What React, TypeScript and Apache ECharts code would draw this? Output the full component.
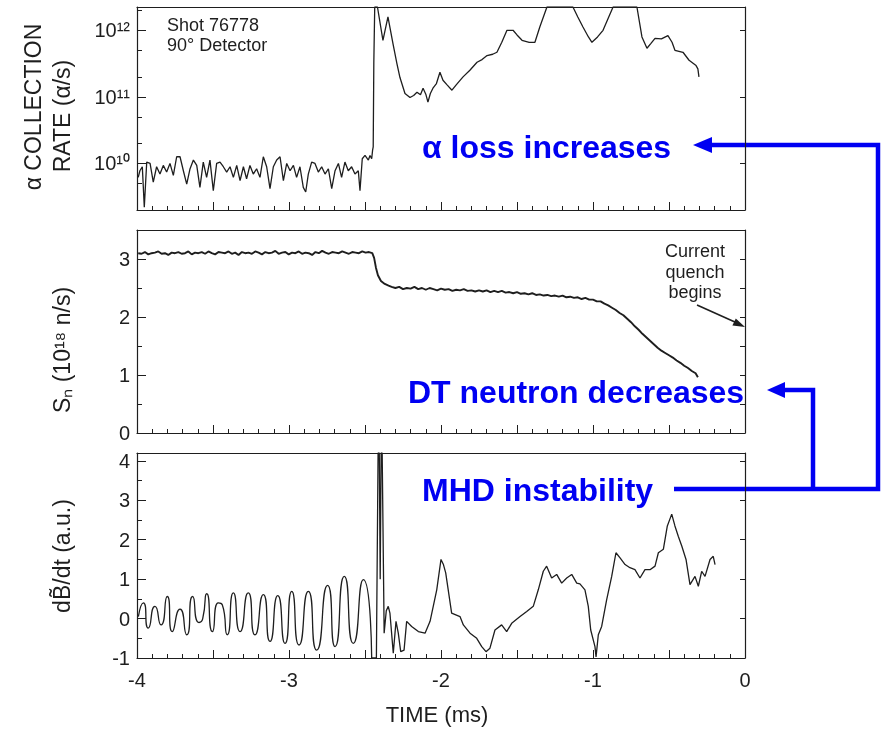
import React, { useEffect, useRef } from 'react';
import * as echarts from 'echarts';

const FONT = '"Liberation Sans", Arial, Helvetica, sans-serif';
const INK = '#1e1e1e';
const BLUE = '#0000f2';

// ---------- axis definitions ----------
const timeLabels = [-4, -3, -2, -1, 0];
const alphaDecades = [10, 11, 12];
const alphaDecadeText = ['10¹⁰', '10¹¹', '10¹²'];
const alphaMinorLogs = [9.699, 10.301, 10.699, 11.301, 11.699, 12.301];
const neutronMajor = [0, 1, 2, 3];
const neutronMinor = [0.5, 1.5, 2.5];
const dbdtMajor = [-1, 0, 1, 2, 3, 4];
const dbdtMinor = [-0.5, 0.5, 1.5, 2.5, 3.5];

// ---------- alpha collection rate: [time ms, log10(rate)] ----------
const alphaRate = [
  [-3.992, 9.79], [-3.981, 9.89], [-3.965, 9.95], [-3.952, 9.34], [-3.936, 10.02], [-3.914, 10.0],
  [-3.893, 9.72], [-3.871, 9.95], [-3.849, 9.84], [-3.827, 9.97], [-3.805, 9.87], [-3.783, 10.0],
  [-3.761, 9.82], [-3.739, 10.1], [-3.717, 10.1], [-3.695, 9.89], [-3.673, 9.69], [-3.651, 9.92],
  [-3.629, 10.05], [-3.607, 9.97], [-3.586, 9.64], [-3.564, 10.02], [-3.542, 9.79], [-3.52, 10.05],
  [-3.498, 9.59], [-3.476, 10.0], [-3.454, 10.02], [-3.432, 9.95], [-3.41, 9.87], [-3.388, 9.95],
  [-3.366, 9.79], [-3.344, 9.97], [-3.322, 9.74], [-3.3, 9.95], [-3.279, 9.77], [-3.257, 9.97],
  [-3.235, 9.84], [-3.213, 9.92], [-3.191, 9.79], [-3.169, 10.1], [-3.147, 9.95], [-3.125, 9.62],
  [-3.103, 9.95], [-3.081, 10.05], [-3.059, 10.1], [-3.037, 9.74], [-3.015, 10.0], [-2.993, 9.89],
  [-2.971, 9.97], [-2.95, 9.79], [-2.928, 9.95], [-2.906, 9.64], [-2.89, 9.57], [-2.873, 9.84],
  [-2.851, 10.02], [-2.829, 10.0], [-2.807, 9.87], [-2.785, 9.95], [-2.763, 9.84], [-2.741, 9.92],
  [-2.719, 9.62], [-2.697, 9.89], [-2.675, 10.0], [-2.654, 9.79], [-2.632, 10.02], [-2.61, 9.89],
  [-2.588, 9.95], [-2.566, 9.84], [-2.544, 9.89], [-2.533, 9.59], [-2.518, 10.07], [-2.5, 10.12],
  [-2.478, 10.05], [-2.467, 10.12], [-2.456, 10.07], [-2.45, 10.2], [-2.446, 10.25],
  [-2.442, 11.5], [-2.436, 12.35], [-2.418, 12.35], [-2.382, 11.85], [-2.349, 12.2], [-2.316, 11.8],
  [-2.29, 11.5], [-2.27, 11.29], [-2.237, 11.05], [-2.204, 10.99], [-2.18, 11.02], [-2.158, 11.07],
  [-2.135, 11.03], [-2.118, 11.13], [-2.1, 11.04], [-2.086, 10.92], [-2.07, 11.05], [-2.053, 11.13],
  [-2.03, 11.2], [-2.007, 11.37], [-1.987, 11.25], [-1.96, 11.18], [-1.928, 11.1], [-1.9, 11.18],
  [-1.855, 11.3], [-1.81, 11.4], [-1.763, 11.52], [-1.73, 11.56], [-1.697, 11.62], [-1.66, 11.64],
  [-1.632, 11.67], [-1.6, 11.82], [-1.566, 12.0], [-1.526, 12.0], [-1.5, 11.93], [-1.467, 11.85],
  [-1.42, 11.82], [-1.382, 11.82], [-1.35, 12.05], [-1.303, 12.35], [-1.132, 12.35], [-1.1, 12.2],
  [-1.066, 12.05], [-1.03, 11.9], [-1.007, 11.82], [-0.97, 11.9], [-0.934, 12.0], [-0.9, 12.18],
  [-0.868, 12.35], [-0.711, 12.35], [-0.678, 11.9], [-0.645, 11.73], [-0.62, 11.8], [-0.592, 11.88],
  [-0.55, 11.87], [-0.507, 11.92], [-0.48, 11.82], [-0.461, 11.7], [-0.408, 11.67], [-0.368, 11.55],
  [-0.322, 11.47], [-0.31, 11.42], [-0.303, 11.3],
];

// ---------- neutron source rate Sn (1e18 n/s): [time ms, value] ----------
const neutronRate = [
  [-3.992, 3.1], [-3.97, 3.09], [-3.948, 3.12], [-3.926, 3.08], [-3.904, 3.1], [-3.882, 3.11],
  [-3.86, 3.13], [-3.838, 3.09], [-3.816, 3.1], [-3.794, 3.07], [-3.772, 3.11], [-3.75, 3.1],
  [-3.728, 3.12], [-3.706, 3.09], [-3.684, 3.1], [-3.662, 3.13], [-3.64, 3.08], [-3.618, 3.11],
  [-3.596, 3.1], [-3.574, 3.12], [-3.552, 3.09], [-3.53, 3.13], [-3.508, 3.1], [-3.486, 3.08],
  [-3.464, 3.12], [-3.442, 3.11], [-3.42, 3.1], [-3.398, 3.13], [-3.376, 3.09], [-3.354, 3.11],
  [-3.332, 3.07], [-3.31, 3.12], [-3.288, 3.1], [-3.266, 3.11], [-3.244, 3.09], [-3.222, 3.13],
  [-3.2, 3.11], [-3.178, 3.08], [-3.156, 3.12], [-3.134, 3.1], [-3.112, 3.11], [-3.09, 3.14],
  [-3.068, 3.09], [-3.046, 3.11], [-3.024, 3.12], [-3.002, 3.08], [-2.98, 3.11], [-2.958, 3.1],
  [-2.936, 3.13], [-2.914, 3.09], [-2.892, 3.11], [-2.87, 3.1], [-2.848, 3.07], [-2.826, 3.12],
  [-2.804, 3.1], [-2.782, 3.14], [-2.76, 3.11], [-2.738, 3.09], [-2.716, 3.12], [-2.694, 3.11],
  [-2.672, 3.1], [-2.65, 3.13], [-2.628, 3.11], [-2.606, 3.09], [-2.584, 3.12], [-2.562, 3.11],
  [-2.54, 3.1], [-2.518, 3.13], [-2.496, 3.11], [-2.474, 3.12], [-2.452, 3.1],
  [-2.44, 3.02], [-2.428, 2.85], [-2.415, 2.72], [-2.395, 2.62], [-2.37, 2.57], [-2.345, 2.54],
  [-2.325, 2.52], [-2.3, 2.5], [-2.275, 2.52], [-2.25, 2.48], [-2.225, 2.5], [-2.2, 2.49],
  [-2.175, 2.52], [-2.15, 2.48], [-2.125, 2.5], [-2.1, 2.47], [-2.075, 2.5], [-2.05, 2.48],
  [-2.025, 2.46], [-2.0, 2.49], [-1.975, 2.47], [-1.95, 2.48], [-1.925, 2.45], [-1.9, 2.47],
  [-1.875, 2.46], [-1.85, 2.48], [-1.825, 2.45], [-1.8, 2.46], [-1.775, 2.44], [-1.75, 2.46],
  [-1.725, 2.44], [-1.7, 2.46], [-1.675, 2.43], [-1.65, 2.45], [-1.625, 2.43], [-1.6, 2.45],
  [-1.575, 2.42], [-1.55, 2.43], [-1.525, 2.41], [-1.5, 2.43], [-1.475, 2.4], [-1.45, 2.41],
  [-1.425, 2.39], [-1.4, 2.41], [-1.375, 2.38], [-1.35, 2.39], [-1.325, 2.37], [-1.3, 2.38],
  [-1.275, 2.36], [-1.25, 2.37], [-1.225, 2.35], [-1.2, 2.37], [-1.175, 2.34], [-1.15, 2.35],
  [-1.125, 2.33], [-1.1, 2.34], [-1.075, 2.31], [-1.05, 2.33], [-1.025, 2.3], [-1.0, 2.3],
  [-0.975, 2.27], [-0.95, 2.27], [-0.925, 2.23], [-0.9, 2.2], [-0.875, 2.16], [-0.85, 2.12],
  [-0.825, 2.07], [-0.8, 2.03], [-0.775, 1.97], [-0.75, 1.91], [-0.725, 1.84], [-0.7, 1.78],
  [-0.675, 1.71], [-0.65, 1.65], [-0.625, 1.59], [-0.6, 1.53], [-0.575, 1.47], [-0.55, 1.42],
  [-0.525, 1.38], [-0.5, 1.34], [-0.475, 1.3], [-0.45, 1.25], [-0.425, 1.21], [-0.4, 1.16],
  [-0.375, 1.12], [-0.35, 1.07], [-0.325, 1.03], [-0.31, 0.96],
];

// ---------- dB/dt (a.u.): [time ms, value] ----------
const dbdtOscillation = [
  [-3.991, 0.05], [-3.958, 0.4], [-3.926, -0.24], [-3.882, 0.31], [-3.842, -0.16], [-3.801, 0.56],
  [-3.768, -0.33], [-3.717, 0.24], [-3.673, -0.41], [-3.634, 0.56], [-3.592, -0.1], [-3.568, -0.01],
  [-3.541, 0.63], [-3.504, -0.33], [-3.465, 0.4], [-3.439, 0.35], [-3.406, -0.41], [-3.366, 0.65],
  [-3.322, -0.33], [-3.268, 0.65], [-3.224, -0.41], [-3.169, 0.61], [-3.125, -0.58], [-3.074, 0.58],
  [-3.026, -0.63], [-2.982, 0.69], [-2.934, -0.67], [-2.873, 0.69], [-2.818, -0.8], [-2.746, 0.84],
  [-2.697, -0.71], [-2.636, 1.07], [-2.577, -0.63], [-2.511, 0.99], [-2.456, -1.0],
];
const dbdtLate = [
  [-2.456, -1.0], [-2.425, -1.0], [-2.414, 4.2], [-2.406, 4.2], [-2.4, 1.0], [-2.394, 4.2],
  [-2.387, 4.2], [-2.374, -0.37], [-2.36, 0.2], [-2.347, 0.31], [-2.336, 0.14], [-2.314, -0.88],
  [-2.296, -0.07], [-2.281, -0.37], [-2.265, -0.84], [-2.243, -0.8], [-2.226, -0.07], [-2.193, -0.2],
  [-2.149, -0.33], [-2.105, -0.37], [-2.072, -0.07], [-2.028, 0.73], [-2.0, 1.5], [-1.984, 1.37],
  [-1.969, 1.16], [-1.93, 0.14], [-1.875, 0.05], [-1.853, -0.16], [-1.809, -0.37], [-1.765, -0.5],
  [-1.732, -0.71], [-1.704, -0.84], [-1.678, -0.75], [-1.645, -0.29], [-1.601, -0.16], [-1.568, -0.33],
  [-1.535, -0.12], [-1.48, 0.05], [-1.436, 0.18], [-1.393, 0.31], [-1.36, 0.73], [-1.327, 1.2],
  [-1.305, 1.33], [-1.272, 1.03], [-1.239, 1.12], [-1.206, 0.9], [-1.173, 1.03], [-1.14, 1.12],
  [-1.107, 0.9], [-1.086, 0.88], [-1.053, 0.73], [-1.031, 0.31], [-1.015, -0.29], [-0.987, -0.71],
  [-0.98, -0.97], [-0.965, -0.41], [-0.943, -0.2], [-0.91, 0.48], [-0.877, 1.07], [-0.849, 1.67],
  [-0.822, 1.54], [-0.789, 1.37], [-0.757, 1.29], [-0.724, 1.24], [-0.691, 1.03], [-0.658, 1.24],
  [-0.625, 1.24], [-0.592, 1.33], [-0.57, 1.67], [-0.537, 1.76], [-0.511, 2.35], [-0.482, 2.65],
  [-0.461, 2.35], [-0.439, 2.09], [-0.416, 1.84], [-0.388, 1.5], [-0.362, 0.86], [-0.329, 1.07],
  [-0.307, 0.82], [-0.285, 1.2], [-0.263, 1.07], [-0.23, 1.5], [-0.209, 1.58], [-0.197, 1.37],
];

const GRIDS = [
  { left: 137, top: 7, width: 608, height: 203 },
  { left: 137, top: 230, width: 608, height: 203 },
  { left: 137, top: 453, width: 608, height: 205 },
];
const LINE = { color: INK, width: 1.2 };
const TICK = { color: INK, width: 1 };

function xAxisBottom(gridIndex: number, labels: boolean) {
  return {
    type: 'value', gridIndex, position: 'bottom', min: -4, max: 0, interval: 0.5,
    axisLine: { show: true, onZero: false, lineStyle: LINE },
    axisTick: { show: true, inside: true, length: 8, lineStyle: TICK },
    minorTick: { show: true, splitNumber: 5, length: 4, lineStyle: TICK },
    splitLine: { show: false }, minorSplitLine: { show: false },
    axisLabel: {
      show: labels, fontSize: 20, fontFamily: FONT, color: INK, margin: 12,
      formatter: (v: number) => {
        const r = Math.round(v);
        return Math.abs(v - r) < 1e-6 && timeLabels.includes(r) ? String(r) : '';
      },
    },
  };
}
function xAxisTop(gridIndex: number) {
  return {
    type: 'value', gridIndex, position: 'top', min: -4, max: 0,
    axisLine: { show: true, onZero: false, lineStyle: LINE },
    axisTick: { show: false }, axisLabel: { show: false }, splitLine: { show: false },
  };
}
function yMajor(gridIndex: number, min: number, max: number, values: number[], formatter?: any) {
  const label: any = { customValues: values, fontSize: 20, fontFamily: FONT, color: INK, margin: 7 };
  if (formatter) label.formatter = formatter;
  return {
    type: 'value', gridIndex, position: 'left', min, max,
    axisLine: { show: true, onZero: false, lineStyle: LINE },
    axisTick: { show: true, inside: true, length: 9, customValues: values, lineStyle: TICK },
    splitLine: { show: false },
    axisLabel: label,
  };
}
function yMinor(gridIndex: number, min: number, max: number, values: number[]) {
  return {
    type: 'value', gridIndex, position: 'left', offset: 0, min, max,
    axisLine: { show: false, onZero: false },
    axisTick: { show: true, inside: true, length: 5, customValues: values, lineStyle: TICK },
    splitLine: { show: false }, axisLabel: { show: false },
  };
}
function yRight(gridIndex: number, min: number, max: number, values: number[]) {
  return {
    type: 'value', gridIndex, position: 'right', offset: 0, min, max,
    axisLine: { show: true, onZero: false, lineStyle: LINE },
    axisTick: { show: true, inside: true, length: 5, customValues: values, lineStyle: TICK },
    splitLine: { show: false }, axisLabel: { show: false },
  };
}

function txt(x: number, y: number, text: string, size: number, opts: any = {}) {
  return {
    type: 'text', x, y, rotation: opts.rotation || 0,
    style: {
      text, fill: opts.color || INK, fontSize: size, fontFamily: FONT,
      fontWeight: opts.bold ? 'bold' : 'normal',
      align: opts.align || 'center', verticalAlign: 'middle',
    },
  };
}

export default function App() {
  const ref = useRef<HTMLDivElement>(null);

  useEffect(() => {
    if (!ref.current) return;
    const chart = echarts.init(ref.current, null, { renderer: 'svg' });

    const lineSeries = (xi: number, yi: number, data: number[][], width: number, smooth?: number) => {
      const s: any = {
        type: 'line', xAxisIndex: xi, yAxisIndex: yi, data,
        showSymbol: false, symbol: 'none',
        lineStyle: { color: INK, width },
      };
      if (smooth) s.smooth = smooth;
      return s;
    };

    chart.setOption({
      animation: false,
      grid: GRIDS,
      xAxis: [
        xAxisBottom(0, false), xAxisBottom(1, false), xAxisBottom(2, true),
        xAxisTop(0), xAxisTop(1), xAxisTop(2),
      ],
      yAxis: [
        yMajor(0, 9.3, 12.35, alphaDecades, (v: number) => alphaDecadeText[alphaDecades.indexOf(Math.round(v))] || ''),
        yMinor(0, 9.3, 12.35, alphaMinorLogs),
        yMajor(1, 0, 3.5, neutronMajor),
        yMinor(1, 0, 3.5, neutronMinor),
        yMajor(2, -1, 4.2, dbdtMajor),
        yMinor(2, -1, 4.2, dbdtMinor),
        yRight(0, 9.3, 12.35, alphaDecades),
        yRight(1, 0, 3.5, neutronMajor.concat(neutronMinor)),
        yRight(2, -1, 4.2, dbdtMajor),
      ],
      series: [
        lineSeries(0, 0, alphaRate, 1.3),
        lineSeries(1, 2, neutronRate, 1.9),
        lineSeries(2, 4, dbdtOscillation, 1.3, 0.75),
        lineSeries(2, 4, dbdtLate, 1.3),
      ],
      graphic: [
        txt(33, 107, 'α COLLECTION', 23, { rotation: Math.PI / 2 }),
        txt(62, 116, 'RATE (α/s)', 23, { rotation: Math.PI / 2 }),
        txt(62, 350, 'Sₙ (10¹⁸ n/s)', 23, { rotation: Math.PI / 2 }),
        txt(62, 556, 'dB̃/dt (a.u.)', 23, { rotation: Math.PI / 2 }),
        txt(437, 714, 'TIME (ms)', 22),
        txt(167, 25, 'Shot 76778', 18, { align: 'left' }),
        txt(167, 45, '90° Detector', 18, { align: 'left' }),
        txt(695, 251, 'Current', 18),
        txt(695, 272, 'quench', 18),
        txt(695, 292, 'begins', 18),
        { type: 'line', shape: { x1: 697, y1: 305, x2: 736, y2: 322.5 }, style: { stroke: INK, lineWidth: 1.6 } },
        { type: 'polygon', shape: { points: [[745, 327], [735.8, 318.4], [732.4, 325.6]] }, style: { fill: INK } },
        txt(422, 147, 'α loss increases', 32, { align: 'left', bold: true, color: BLUE }),
        txt(408, 392, 'DT neutron decreases', 32, { align: 'left', bold: true, color: BLUE }),
        txt(422, 490, 'MHD instability', 32, { align: 'left', bold: true, color: BLUE }),
        {
          type: 'polyline',
          shape: { points: [[674, 489], [878, 489], [878, 145], [708, 145]] },
          style: { stroke: BLUE, lineWidth: 4.5 },
        },
        { type: 'polygon', shape: { points: [[693, 145], [712, 137], [712, 153]] }, style: { fill: BLUE } },
        {
          type: 'polyline',
          shape: { points: [[813, 489], [813, 390], [782, 390]] },
          style: { stroke: BLUE, lineWidth: 4.5 },
        },
        { type: 'polygon', shape: { points: [[767, 390], [785, 382], [785, 398]] }, style: { fill: BLUE } },
      ],
    });

    return () => chart.dispose();
  }, []);

  return <div ref={ref} style={{ position: 'fixed', left: 0, top: 0, width: 881, height: 730 }} />;
}
